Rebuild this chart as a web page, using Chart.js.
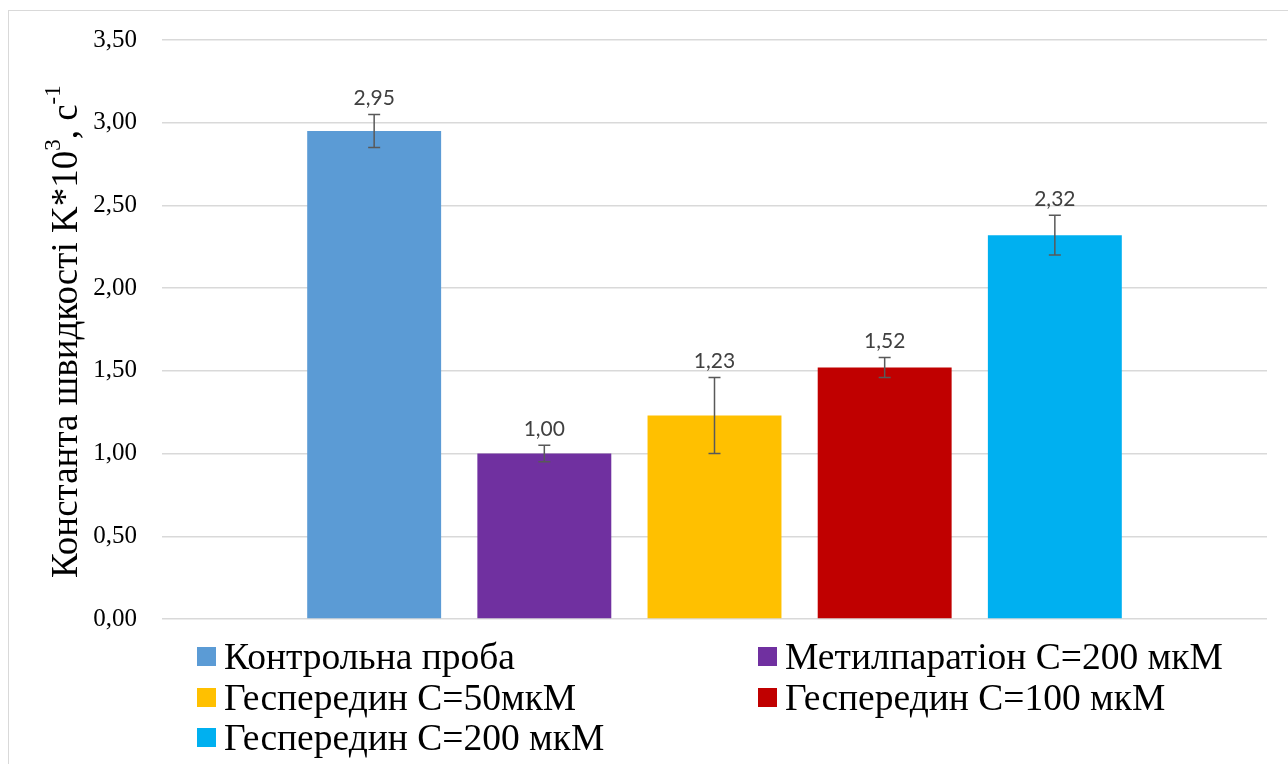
<!DOCTYPE html>
<html>
<head>
<meta charset="utf-8">
<script src="https://cdn.jsdelivr.net/npm/chart.js@4.4.1/dist/chart.umd.min.js"></script>
<style>
  html, body { margin: 0; padding: 0; background: #fff; }
  #wrap { position: relative; width: 1288px; height: 764px; }
</style>
</head>
<body>
<div id="wrap"><canvas id="bar-chart"></canvas></div>
<script>
// chart data
var categories = [''];
var seriesNames = ['Контрольна проба', 'Метилпаратіон С=200 мкМ', 'Геспередин С=50мкМ', 'Геспередин С=100 мкМ', 'Геспередин С=200 мкМ'];
var values = [2.95, 1.00, 1.23, 1.52, 2.32];
var errors = [0.10, 0.05, 0.23, 0.06, 0.12];
var colors = ['#5B9BD5', '#7030A0', '#FFC000', '#C00000', '#00B0F0'];
var yMin = 0, yMax = 3.5, yStep = 0.5;

function comma(v) { return v.toFixed(2).replace('.', ','); }

var datasets = [];
for (var i = 0; i < seriesNames.length; i++) {
  datasets.push({
    label: seriesNames[i],
    data: [values[i]],
    backgroundColor: colors[i],
    borderWidth: 0,
    categoryPercentage: 0.77,
    barPercentage: 0.787
  });
}

// frame round the whole picture
var framePlugin = {
  id: 'frame',
  beforeDraw: function(chart) {
    var ctx = chart.ctx;
    ctx.save();
    ctx.strokeStyle = '#d9d9d9';
    ctx.lineWidth = 1;
    ctx.strokeRect(8.5, 10.5, 1290, 770);
    ctx.restore();
  }
};

// error bars + value labels
var errorPlugin = {
  id: 'errorBars',
  afterDatasetsDraw: function(chart) {
    var ctx = chart.ctx;
    var y = chart.scales.y;
    ctx.save();
    for (var i = 0; i < values.length; i++) {
      var bar = chart.getDatasetMeta(i).data[0];
      var x = bar.x;
      var top = y.getPixelForValue(values[i] + errors[i]);
      var bot = y.getPixelForValue(values[i] - errors[i]);
      ctx.strokeStyle = '#595959';
      ctx.lineWidth = 1.5;
      ctx.beginPath();
      ctx.moveTo(x, top); ctx.lineTo(x, bot);
      ctx.moveTo(x - 6, top); ctx.lineTo(x + 6, top);
      ctx.moveTo(x - 6, bot); ctx.lineTo(x + 6, bot);
      ctx.stroke();

      ctx.fillStyle = '#404040';
      ctx.font = '21px Lato';
      ctx.textAlign = 'center';
      ctx.textBaseline = 'middle';
      ctx.fillText(comma(values[i]), x, top - 16);
    }
    ctx.restore();
  }
};

// y title with real superscripts
var titlePlugin = {
  id: 'yTitle',
  afterDraw: function(chart) {
    var ctx = chart.ctx;
    var parts = [
      ['Константа швидкості K*10', false],
      ['3', true],
      [', с', false],
      ['-1', true]
    ];
    var size = 37, sup = 23;
    ctx.save();
    ctx.translate(77, 578);
    ctx.rotate(-Math.PI / 2);
    ctx.fillStyle = '#000';
    ctx.textAlign = 'left';
    ctx.textBaseline = 'alphabetic';
    var pos = 0;
    parts.forEach(function(p) {
      ctx.font = (p[1] ? sup : size) + 'px "Liberation Serif"';
      ctx.fillText(p[0], pos, p[1] ? -17 : 0);
      pos += ctx.measureText(p[0]).width;
    });
    ctx.restore();
  }
};

// legend in two columns
var legendPlugin = {
  id: 'twoColLegend',
  afterDraw: function(chart) {
    var ctx = chart.ctx;
    var colX = [197, 758];
    var rowY = [669, 710, 750];
    ctx.save();
    ctx.font = '37.5px "Liberation Serif"';
    ctx.textBaseline = 'alphabetic';
    ctx.textAlign = 'left';
    chart.data.datasets.forEach(function(ds, i) {
      var cx = colX[i % 2], cy = rowY[Math.floor(i / 2)];
      ctx.fillStyle = ds.backgroundColor;
      ctx.fillRect(cx, cy - 22, 19, 19);
      ctx.fillStyle = '#000';
      ctx.fillText(ds.label, cx + 27, cy);
    });
    ctx.restore();
  }
};

new Chart(document.getElementById('bar-chart'), {
  type: 'bar',
  data: { labels: categories, datasets: datasets },
  plugins: [framePlugin, errorPlugin, titlePlugin, legendPlugin],
  options: {
    responsive: true,
    maintainAspectRatio: false,
    animation: false,
    layout: { padding: { left: 0, right: 21, top: 40, bottom: 145 } },
    plugins: {
      legend: { display: false },
      tooltip: { enabled: false }
    },
    scales: {
      x: { display: false },
      y: {
        min: yMin,
        max: yMax,
        afterFit: function(s) { s.width = 162; },
        border: { display: false },
        grid: { color: '#d9d9d9', lineWidth: 1.5, drawTicks: false },
        ticks: {
          stepSize: yStep,
          padding: 25,
          color: '#000',
          font: { family: '"Liberation Serif"', size: 25 },
          callback: function(v) { return comma(v); }
        }
      }
    }
  }
});
</script>
</body>
</html>
